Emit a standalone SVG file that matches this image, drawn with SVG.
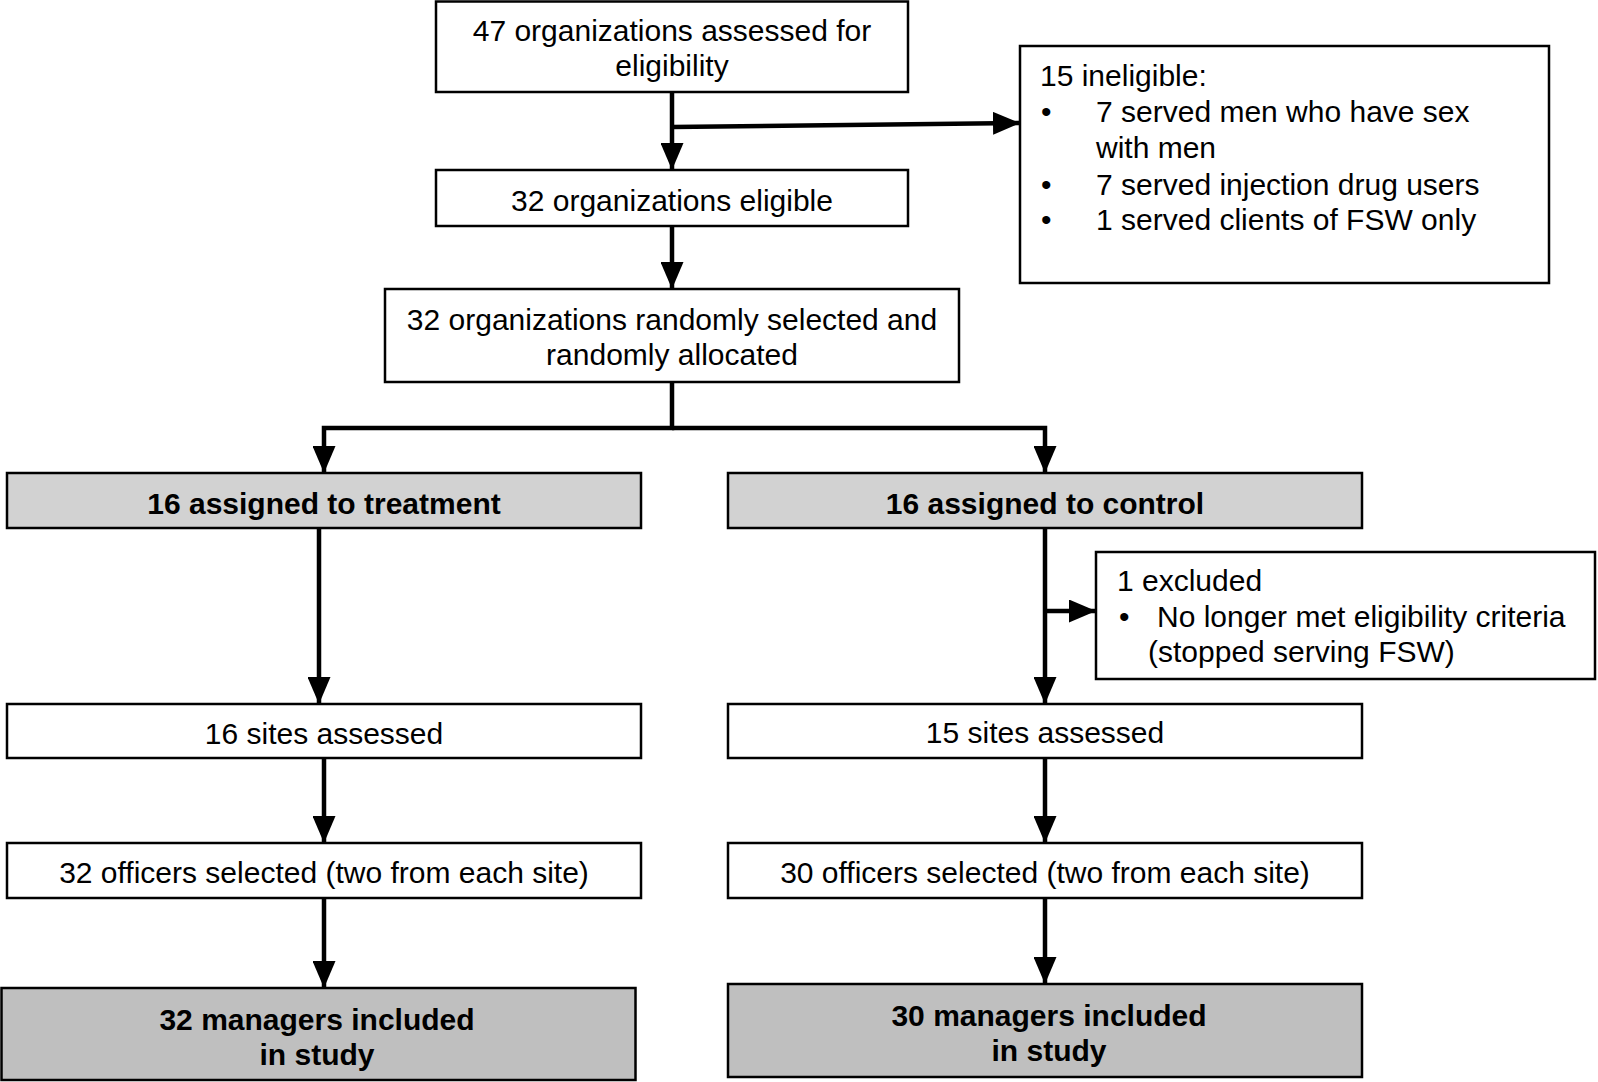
<svg xmlns="http://www.w3.org/2000/svg" width="1598" height="1082" viewBox="0 0 1598 1082">
<style>
.box{fill:#ffffff;stroke:#000;stroke-width:2.5}
.g1{fill:#d2d2d2;stroke:#000;stroke-width:2.5}
.g2{fill:#bfbfbf;stroke:#000;stroke-width:2.5}
text{font-family:"Liberation Sans",Arial,sans-serif;font-size:30px;fill:#000}
.c{text-anchor:middle}
.b{font-weight:bold;font-size:30px}
.conn{fill:none;stroke:#000;stroke-width:4.5}
</style>
<defs>
<marker id="ah" markerUnits="userSpaceOnUse" markerWidth="27" markerHeight="23" refX="27" refY="11.5" orient="auto" viewBox="0 0 27 23">
<path d="M0,0 L27,11.5 L0,23 z" fill="#000"/>
</marker>
</defs>
<rect width="1598" height="1082" fill="#fff"/>
<g id="connectors">
<path class="conn" d="M672,92 V170" marker-end="url(#ah)"/>
<path class="conn" d="M672,127 L1020,123" marker-end="url(#ah)"/>
<path class="conn" d="M672,226 V289" marker-end="url(#ah)"/>
<path class="conn" d="M672,382 V428 H324 V473" marker-end="url(#ah)"/>
<path class="conn" d="M672,428 H1045 V473" marker-end="url(#ah)"/>
<path class="conn" d="M319,528 V704" marker-end="url(#ah)"/>
<path class="conn" d="M1045,528 V704" marker-end="url(#ah)"/>
<path class="conn" d="M1045,611 H1096" marker-end="url(#ah)"/>
<path class="conn" d="M324,758 V843" marker-end="url(#ah)"/>
<path class="conn" d="M324,898 V988" marker-end="url(#ah)"/>
<path class="conn" d="M1045,758 V843" marker-end="url(#ah)"/>
<path class="conn" d="M1045,898 V984" marker-end="url(#ah)"/>
</g>
<g id="assessed">
<rect class="box" x="436" y="1.5" width="472" height="90.5"/>
<text class="c" x="672" y="41">47 organizations assessed for</text>
<text class="c" x="672" y="76">eligibility</text>
</g>
<g id="ineligible">
<rect class="box" x="1020" y="46" width="529" height="237"/>
<text x="1040" y="86">15 ineligible:</text>
<text x="1041" y="122">•</text>
<text x="1096" y="122">7 served men who have sex</text>
<text x="1096" y="158">with men</text>
<text x="1041" y="195">•</text>
<text x="1096" y="195">7 served injection drug users</text>
<text x="1041" y="230">•</text>
<text x="1096" y="230">1 served clients of FSW only</text>
</g>
<g id="eligible">
<rect class="box" x="436" y="170" width="472" height="56"/>
<text class="c" x="672" y="211">32 organizations eligible</text>
</g>
<g id="randomized">
<rect class="box" x="385" y="289" width="574" height="93"/>
<text class="c" x="672" y="330">32 organizations randomly selected and</text>
<text class="c" x="672" y="365">randomly allocated</text>
</g>
<g id="treatment">
<rect class="g1" x="7" y="473" width="634" height="55"/>
<text class="c b" x="324" y="514">16 assigned to treatment</text>
</g>
<g id="control">
<rect class="g1" x="728" y="473" width="634" height="55"/>
<text class="c b" x="1045" y="514">16 assigned to control</text>
</g>
<g id="excluded">
<rect class="box" x="1096" y="552" width="499" height="127"/>
<text x="1117" y="591">1 excluded</text>
<text x="1119" y="627">•</text>
<text x="1157" y="627">No longer met eligibility criteria</text>
<text x="1148" y="662">(stopped serving FSW)</text>
</g>
<g id="sites-t">
<rect class="box" x="7" y="704" width="634" height="54"/>
<text class="c" x="324" y="744">16 sites assessed</text>
</g>
<g id="sites-c">
<rect class="box" x="728" y="704" width="634" height="54"/>
<text class="c" x="1045" y="743">15 sites assessed</text>
</g>
<g id="officers-t">
<rect class="box" x="7" y="843" width="634" height="55"/>
<text class="c" x="324" y="883">32 officers selected (two from each site)</text>
</g>
<g id="officers-c">
<rect class="box" x="728" y="843" width="634" height="55"/>
<text class="c" x="1045" y="883">30 officers selected (two from each site)</text>
</g>
<g id="managers-t">
<rect class="g2" x="1.5" y="988" width="634" height="92"/>
<text class="c b" x="317" y="1030">32 managers included</text>
<text class="c b" x="317" y="1065">in study</text>
</g>
<g id="managers-c">
<rect class="g2" x="728" y="984" width="634" height="93"/>
<text class="c b" x="1049" y="1026">30 managers included</text>
<text class="c b" x="1049" y="1061">in study</text>
</g>
</svg>
